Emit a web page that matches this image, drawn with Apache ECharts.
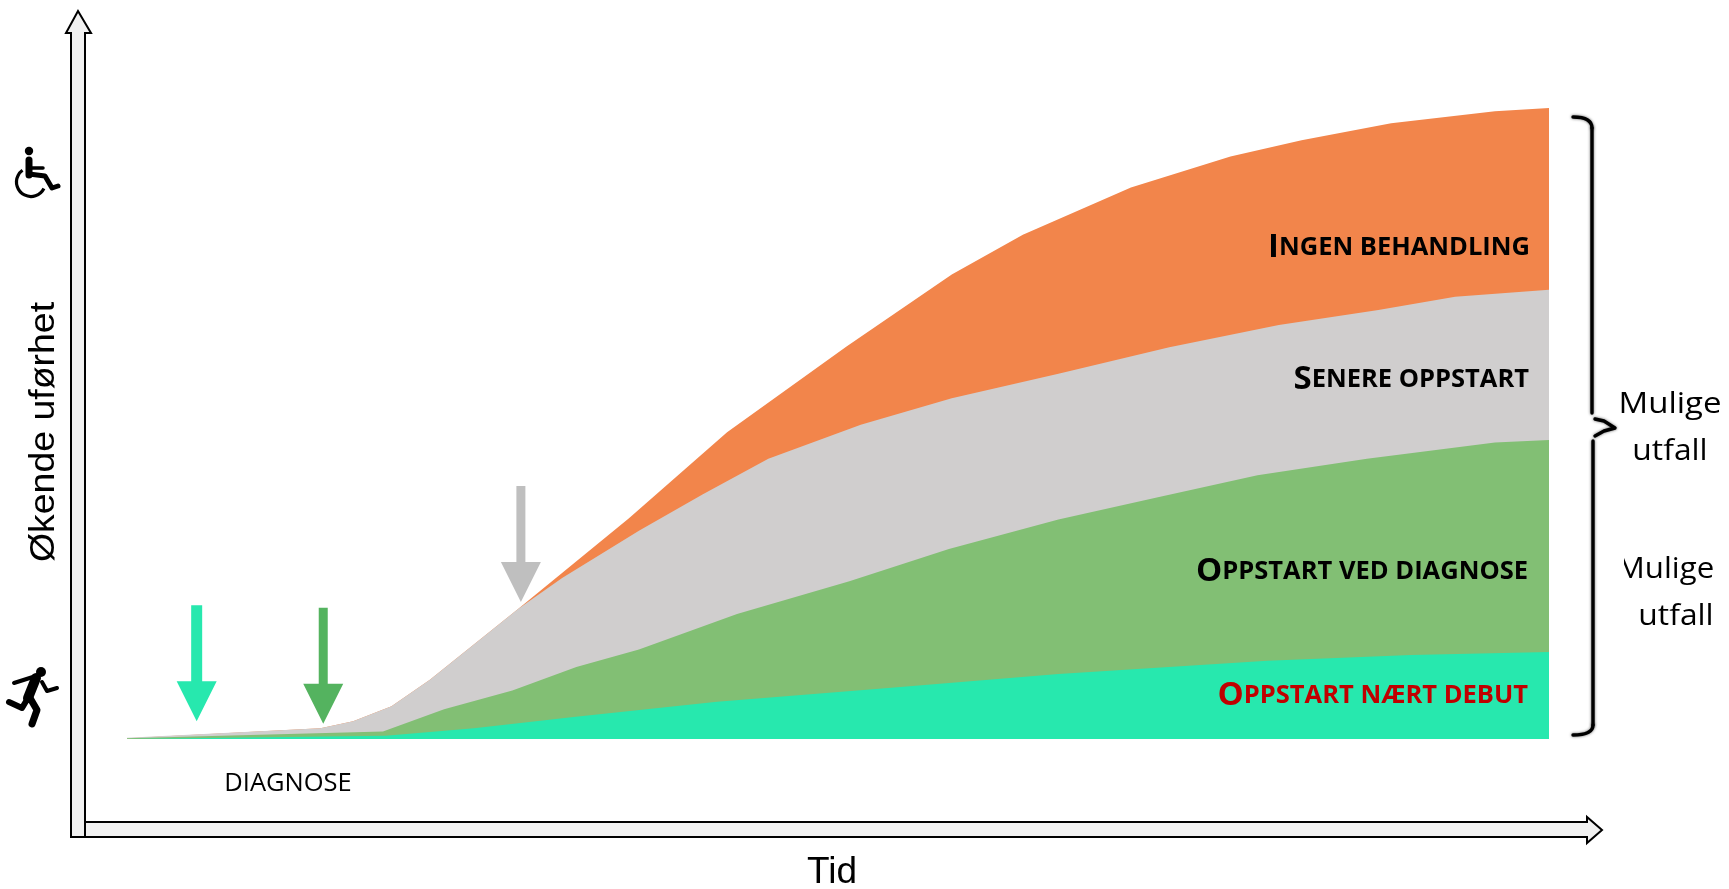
<!DOCTYPE html>
<html><head><meta charset="utf-8">
<style>html,body{margin:0;padding:0;background:#fff}#c{width:1729px;height:889px}</style>
<script src="https://cdn.jsdelivr.net/npm/echarts@6/dist/echarts.min.js"></script>
</head><body><div id="c"></div>
<script>
// x = time (0-100), y = disability (0-100)
const ingenBehandling = [[0,0.1],[13.6,1.7],[15.9,2.8],[18.6,5.2],[21.3,9.4],[27.5,20.6],[35.3,35.0],[42.2,48.6],[50.6,62.2],[58.0,73.6],[63.0,79.9],[70.6,87.4],[77.6,92.3],[82.6,94.9],[88.9,97.6],[96.2,99.5],[100,100]];
const senereOppstart = [[0,0.2],[13.6,1.7],[15.9,2.8],[18.6,5.2],[21.3,9.4],[27.5,20.6],[30.6,25.5],[36.0,33.0],[40.5,38.8],[45.1,44.4],[51.6,49.8],[58.0,54.0],[65.5,57.9],[73.3,62.1],[81.0,65.6],[88.0,68.0],[93.4,70.1],[100,71.2]];
const oppstartDiagnose = [[0,0.1],[18.0,1.2],[22.3,4.7],[27.1,7.7],[31.6,11.4],[36.0,14.2],[42.9,19.8],[50.8,25.0],[57.8,30.1],[65.5,34.8],[72.5,38.3],[79.5,41.8],[87.2,44.4],[96.2,47.0],[100,47.4]];
const oppstartDebut = [[0,0],[18.2,0.5],[24.4,1.7],[31.4,3.5],[41.5,5.9],[53.1,8.0],[65.5,10.3],[80.2,12.4],[90.3,13.3],[100,13.8]];
// start arrows: x, top of shaft, tip
const arrowDebut = [4.9,21.2,2.8];
const arrowDiagnose = [13.8,20.8,2.4];
const arrowSenere = [27.7,40.1,21.7];
const bandLabels = [['I','NGEN BEHANDLING'],['S','ENERE OPPSTART'],['O','PPSTART VED DIAGNOSE'],['O','PPSTART NÆRT DEBUT']];

const chart = echarts.init(document.getElementById('c'), null, {renderer:'canvas'});
const area = (name,data,color)=>({name,type:'line',data,symbol:'none',smooth:false,silent:true,animation:false,
  lineStyle:{width:0,color},itemStyle:{color},areaStyle:{color,opacity:1,origin:'start'}});
const arrow = (name,d,color,sw)=>({name,type:'custom',data:[d],silent:true,animation:false,clip:false,z:5,
  encode:{x:0,y:[1,2]},
  renderItem(params,api){
    const top=api.coord([api.value(0),api.value(1)]), tip=api.coord([api.value(0),api.value(2)]);
    const x=top[0], hy=tip[1]-40, hw=20;
    return {type:'polygon',shape:{points:[[x-sw,top[1]],[x+sw,top[1]],[x+sw,hy],[x+hw,hy],[x,tip[1]],[x-hw,hy],[x-sw,hy]]},style:{fill:color}};
  }});
const ln=(pts,w)=>({type:'polyline',shape:{points:pts},style:{stroke:'#000',lineWidth:w,fill:null,lineCap:'round',lineJoin:'round'},silent:true});
const dot=(cx,cy,r)=>({type:'circle',shape:{cx,cy,r},style:{fill:'#000'},silent:true});
const braceStyle={stroke:'#000',lineWidth:3.4,fill:null,lineCap:'round',lineJoin:'round',shadowBlur:3,shadowColor:'rgba(0,0,0,0.6)'};
const qd=(x1,y1,cx,cy,x2,y2)=>({type:'bezierCurve',shape:{x1,y1,x2,y2,cpx1:cx,cpy1:cy},style:braceStyle,silent:true});
const br=(pts)=>({type:'polyline',shape:{points:pts},style:braceStyle,silent:true});
const txt=(x,y,text,o,sx)=>({type:'text',x,y,scaleX:sx||1,style:Object.assign({text,fill:'#000',align:'center',verticalAlign:'middle'},o),silent:true,z:20});
const sc=(right,y,pair,color,big,small)=>({type:'text',x:right,y,silent:true,z:20,style:{
  text:'{a|'+pair[0]+'}{b|'+pair[1]+'}',align:'right',verticalAlign:'middle',
  rich:{a:{fontFamily:'Open Sans',fontWeight:700,fontSize:big,fill:color,color},b:{fontFamily:'Open Sans',fontWeight:700,fontSize:small,fill:color,color}}}});
const axisStyle={fill:'#f1f1f1',stroke:'#000',lineWidth:2};
const graphic=[
  {type:'polygon',shape:{points:[[71,837],[71,33],[66,33],[78,11],[91,33],[85,33],[85,822],[1587,822],[1587,817],[1602,830],[1587,843],[1587,837]]},style:axisStyle,silent:true},
  ln([[85,822],[85,837]],2),
  // icons
  dot(29,151,4.2), ln([[29,160],[29,175]],7), ln([[29,168],[43,168]],3.5), ln([[29,174],[45,176],[52,188],[58,186]],5),
  {type:'arc',shape:{cx:31,cy:182,r:14.5,startAngle:Math.PI*0.15,endAngle:Math.PI*1.3,clockwise:true},style:{stroke:'#000',lineWidth:3.2,fill:null},silent:true},
  dot(41,672,5), ln([[14,683],[36,676]],4), ln([[36,678],[28,698]],10), ln([[42,682],[47,691],[57,688]],4),
  ln([[28,698],[22,708],[9,702]],6), ln([[30,698],[37,710],[32,724]],7),
  // braces
  qd(1573,117,1592,117,1592,128),
  br([[1592,128],[1592,413]]),
  br([[1595,419],[1604,421],[1615,428],[1604,431],[1595,436]]),
  br([[1593,441],[1593,725]]),
  qd(1593,725,1593,735,1573,735),
  // texts
  sc(1530,248,bandLabels[0],'#000',33,25.5),
  sc(1529,380,bandLabels[1],'#000',33,25.5),
  sc(1528,572,bandLabels[2],'#000',33,25.5),
  sc(1528,696,bandLabels[3],'#C00000',33,25.5),
  txt(1670,404,'Mulige',{fontFamily:'Open Sans',fontSize:30},1.1),
  txt(1670,451,'utfall',{fontFamily:'Open Sans',fontSize:30},1.06),
  txt(1665.5,569,'Mulige',{fontFamily:'Open Sans',fontSize:30},1.04),
  {type:'rect',shape:{x:1610,y:550,width:14,height:40},style:{fill:'#fff'},silent:true,z:21},
  txt(1676,616,'utfall',{fontFamily:'Open Sans',fontSize:30},1.06),
  txt(288,784,'DIAGNOSE',{fontFamily:'Open Sans',fontSize:25.5}),
  txt(832,873,'Tid',{fontFamily:'Liberation Sans',fontSize:37}),
  {type:'text',x:44,y:432,rotation:Math.PI/2,scaleX:1.07,silent:true,z:20,style:{text:'Økende uførhet',fontFamily:'Liberation Sans',fontSize:35,fill:'#000',align:'center',verticalAlign:'middle'}}
];
chart.setOption({
  backgroundColor:'#fff',animation:false,
  grid:{left:127,top:108,width:1422,height:631},
  xAxis:{type:'value',min:0,max:100,show:false},
  yAxis:{type:'value',min:0,max:100,show:false},
  tooltip:{show:false},legend:{show:false},
  series:[
    area('Ingen behandling',ingenBehandling,'#F2854B'),
    area('Senere oppstart',senereOppstart,'#D0CECE'),
    area('Oppstart ved diagnose',oppstartDiagnose,'#82BF74'),
    area('Oppstart nært debut',oppstartDebut,'#27E8AE'),
    arrow('a1',arrowDebut,'#27E8AE',5.5),
    arrow('a2',arrowDiagnose,'#54B35F',4.5),
    arrow('a3',arrowSenere,'#BFBFBF',4.5)
  ],
  graphic:{elements:graphic}
});
</script></body></html>
